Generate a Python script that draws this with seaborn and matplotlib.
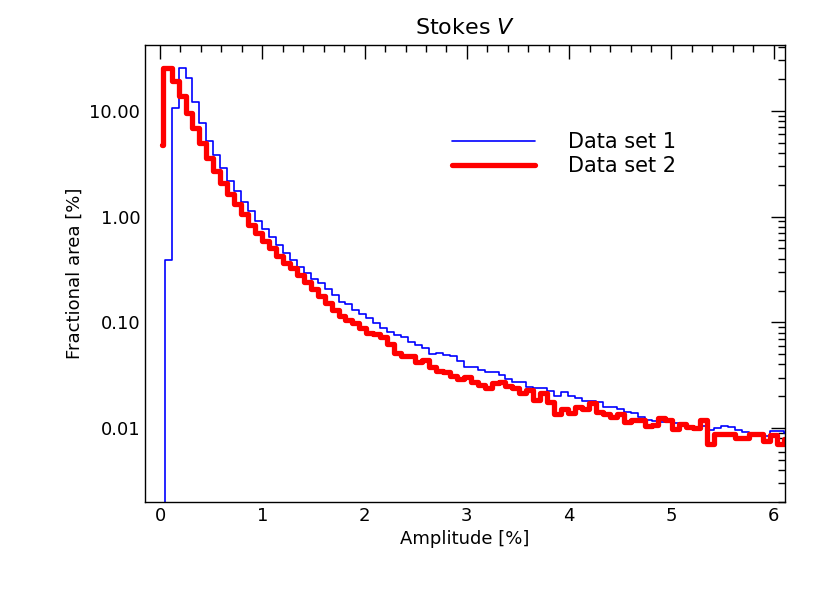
import numpy as np
import pandas as pd
import seaborn as sns
import matplotlib
matplotlib.use("Agg")
import matplotlib.pyplot as plt
from matplotlib.ticker import MultipleLocator, FixedLocator, LogLocator, NullFormatter

# histogram bins (amplitude in %)
bin_start = 0.045
bin_width = 0.068
n_bins = 90

set1 = [0.39, 10.7, 25.3, 20.4, 12.2, 7.75, 5.24, 3.83, 2.87, 2.18,
        1.73, 1.39, 1.13, 0.90, 0.76, 0.64, 0.54, 0.45, 0.39, 0.337,
        0.29, 0.256, 0.234, 0.206, 0.181, 0.156, 0.149, 0.132, 0.120, 0.111,
        0.099, 0.089, 0.081, 0.076, 0.072, 0.065, 0.061, 0.057, 0.050, 0.051,
        0.049, 0.0477, 0.0434, 0.0380, 0.0375, 0.0355, 0.0342, 0.0336, 0.0316, 0.0294,
        0.0273, 0.0273, 0.0242, 0.0239, 0.0239, 0.0226, 0.0201, 0.0220, 0.0199, 0.0192,
        0.0180, 0.0181, 0.0177, 0.0159, 0.0159, 0.0150, 0.0142, 0.0138, 0.0128, 0.0119,
        0.0117, 0.0114, 0.0114, 0.0112, 0.0108, 0.0100, 0.0102, 0.0104, 0.0096, 0.0100,
        0.0104, 0.0102, 0.0096, 0.0091, 0.0090, 0.0086, 0.0085, 0.0093, 0.0093, 0.0090]

set2 = [25.7, 19.0, 13.7, 9.5, 6.96, 4.94, 3.61, 2.71, 2.07, 1.63,
        1.31, 1.07, 0.83, 0.70, 0.59, 0.51, 0.42, 0.365, 0.325, 0.28,
        0.243, 0.206, 0.176, 0.151, 0.132, 0.114, 0.105, 0.098, 0.089, 0.080,
        0.077, 0.072, 0.063, 0.051, 0.048, 0.048, 0.042, 0.044, 0.038, 0.035,
        0.0342, 0.031, 0.0294, 0.0304, 0.0273, 0.0256, 0.0239, 0.0266, 0.0273, 0.0248,
        0.0239, 0.0215, 0.0228, 0.0184, 0.0215, 0.0177, 0.0135, 0.0150, 0.0138, 0.0159,
        0.0152, 0.0172, 0.0142, 0.0136, 0.0126, 0.0136, 0.0115, 0.0118, 0.0120, 0.0104,
        0.0108, 0.0125, 0.0120, 0.0098, 0.0110, 0.0102, 0.0100, 0.0118, 0.0070, 0.0087,
        0.0087, 0.0087, 0.0080, 0.0080, 0.0087, 0.0087, 0.0075, 0.0086, 0.0070, 0.0078]

set1_lead = (0.0, 0.0015)   # line comes up from below the axis
set2_lead = (0.02, 0.025, 4.8)  # red starts at 4.8 then jumps up

edges = bin_start + bin_width * np.arange(n_bins + 1)

x1 = np.concatenate([[set1_lead[0]], edges])
y1 = np.concatenate([[set1_lead[1]], set1, [set1[-1]]])
x2 = np.concatenate([[set2_lead[0], set2_lead[1]], edges[1:]])
y2 = np.concatenate([[set2_lead[2]], set2, [set2[-1]]])

df1 = pd.DataFrame({"amp": x1, "frac": y1})
df2 = pd.DataFrame({"amp": x2, "frac": y2})

sns.set_style("white")
fig = plt.figure(figsize=(8.3, 5.93), dpi=100)
ax = fig.add_axes([0.1747, 0.1535, 0.7711, 0.7706])

sns.lineplot(data=df1, x="amp", y="frac", ax=ax, color="#0000ff", lw=1.2,
             drawstyle="steps-post", estimator=None, sort=False, label="Data set 1")
sns.lineplot(data=df2, x="amp", y="frac", ax=ax, color="#ff0000", lw=3.8,
             drawstyle="steps-post", estimator=None, sort=False, label="Data set 2")

ax.set_yscale("log")
ax.set_xlim(-0.147, 6.11)
ax.set_ylim(0.002, 42)
ax.xaxis.set_major_locator(MultipleLocator(1))
ax.xaxis.set_minor_locator(MultipleLocator(0.2))
ax.yaxis.set_major_locator(FixedLocator([0.01, 0.1, 1, 10]))
ax.yaxis.set_minor_locator(LogLocator(base=10, subs=np.arange(2, 10)))
ax.yaxis.set_minor_formatter(NullFormatter())
ax.set_yticks([0.01, 0.1, 1, 10])
ax.set_yticklabels(["0.01", "0.10", "1.00", "10.00"])

ax.tick_params(which="both", direction="in", top=True, right=True, color="black",
               labelsize=13, labelcolor="black")
ax.tick_params(which="major", length=10, width=1)
ax.tick_params(which="minor", length=5, width=1)
for s in ax.spines.values():
    s.set_color("black")
    s.set_linewidth(1)

ax.set_xlabel("Amplitude [%]", fontsize=13, color="black")
ax.set_ylabel("Fractional area [%]", fontsize=13, color="black")
ax.set_title("Stokes $V$", fontsize=16, pad=8, color="black")

leg = ax.legend(loc="upper left", bbox_to_anchor=(0.45, 0.85), frameon=False,
                fontsize=15, handlelength=4.0, handletextpad=1.6, labelspacing=0.2)
for t in leg.get_texts():
    t.set_color("black")

fig.savefig("out.png", dpi=100)
